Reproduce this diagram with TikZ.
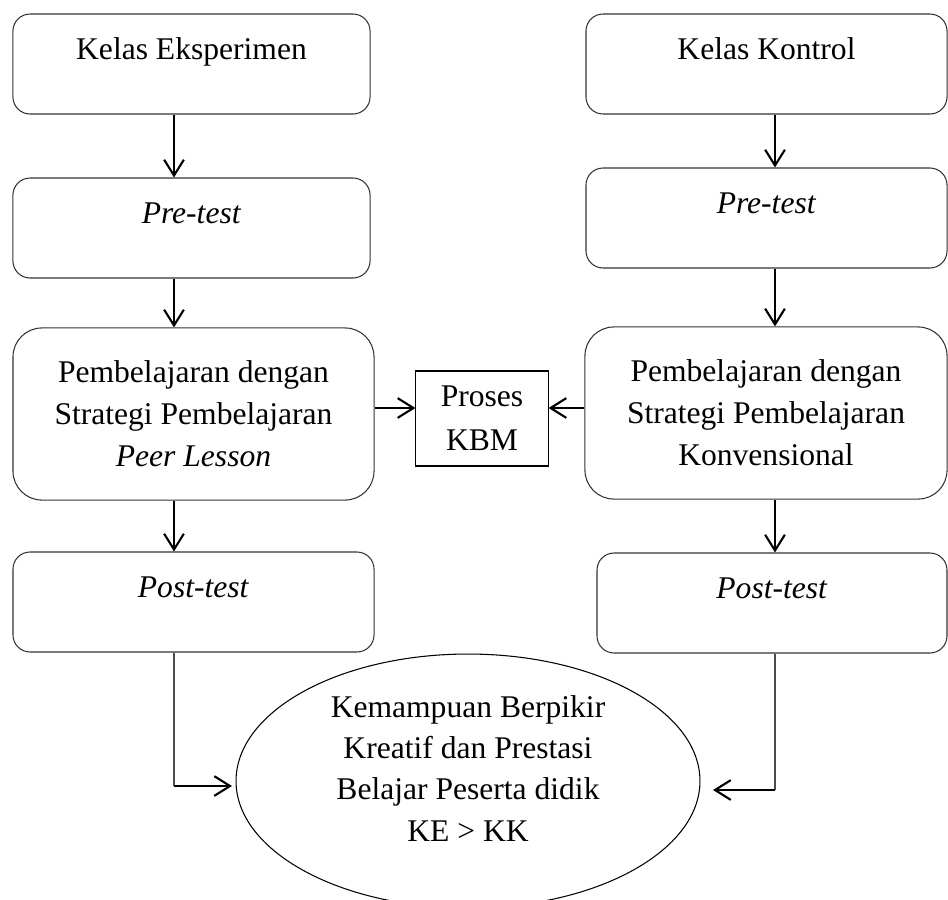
\documentclass[tikz,border=0pt]{standalone}
\usepackage{fontspec}
\setmainfont{Liberation Serif}
\usetikzlibrary{arrows.meta,shapes.geometric}

\tikzset{
  kotak/.style={draw=black!80, line width=0.4pt, rounded corners=6.5pt, inner ysep=0pt,
    minimum width=135.7pt, text height=17.1pt, text depth=20.9pt, font=\fontsize{12}{16}\selectfont},
  kotakbesar/.style={draw=black!80, line width=0.4pt, rounded corners=11pt, align=center,
    minimum width=137.2pt, minimum height=65.4pt, font=\fontsize{12}{16}\selectfont},
  panah/.style={-{Straight Barb[length=6pt,width=7.5pt]}, line width=0.8pt},
  garis/.style={line width=0.4pt, black!70},
}

\begin{document}
\begin{tikzpicture}[x=0.38pt,y=-0.38pt]
\useasboundingbox (0,0) rectangle (948,899);
\coordinate (colE) at (174,0);
\coordinate (colK) at (775,0);
\coordinate (rowKBM) at (0,408);
\coordinate (tipE) at (232,786);
\coordinate (tipK) at (713,790);
% kelas eksperimen
\node[kotak] (kelasE) at (191.5,64) {Kelas Eksperimen};
\node[kotak] (preE) at (191.5,228) {\textit{Pre-test}};
\node[kotakbesar] (belajarE) at (193.5,414) {Pembelajaran dengan\\Strategi Pembelajaran\\\textit{Peer Lesson}};
\node[kotak, minimum width=137.2pt] (postE) at (193.5,602) {\textit{Post-test}};
% kelas kontrol
\node[kotak, minimum width=137.2pt] (kelasK) at (766.5,64) {Kelas Kontrol};
\node[kotak, minimum width=137.2pt] (preK) at (766.5,218) {\textit{Pre-test}};
\node[kotakbesar, minimum width=137.6pt] (belajarK) at (766,413) {Pembelajaran dengan\\Strategi Pembelajaran\\Konvensional};
\node[kotak, minimum width=133pt] (postK) at (772,603) {\textit{Post-test}};
% tengah
\node[draw, line width=0.4pt, align=center, minimum width=50.2pt, minimum height=36.1pt,
  font=\fontsize{12}{16.7}\selectfont] (kbm) at (482,418.5) {Proses\\KBM};
\node[draw, ellipse, line width=0.4pt, minimum width=176.3pt, minimum height=96.5pt,
  label={[align=center, yshift=4.9pt, font=\fontsize{12}{15.7}\selectfont]center:Kemampuan Berpikir\\Kreatif dan Prestasi\\Belajar Peserta didik\\KE > KK}] (hasil) at (468,781) {};
% panah
\draw[panah] (kelasE.south -| colE) -- (preE.north -| colE);
\draw[panah] (preE.south -| colE) -- (belajarE.north -| colE);
\draw[panah] (belajarE.south -| colE) -- (postE.north -| colE);
\draw[panah] (kelasK.south -| colK) -- (preK.north -| colK);
\draw[panah] (preK.south -| colK) -- (belajarK.north -| colK);
\draw[panah] (belajarK.south -| colK) -- (postK.north -| colK);
\draw[panah] (belajarE.east |- rowKBM) -- (kbm.west |- rowKBM);
\draw[panah] (belajarK.west |- rowKBM) -- (kbm.east |- rowKBM);
\draw[garis] (postE.south -| colE) -- (colE |- tipE);
\draw[panah] (colE |- tipE) -- (tipE);
\draw[garis] (postK.south -| colK) -- (colK |- tipK);
\draw[panah] (colK |- tipK) -- (tipK);
\end{tikzpicture}
\end{document}
